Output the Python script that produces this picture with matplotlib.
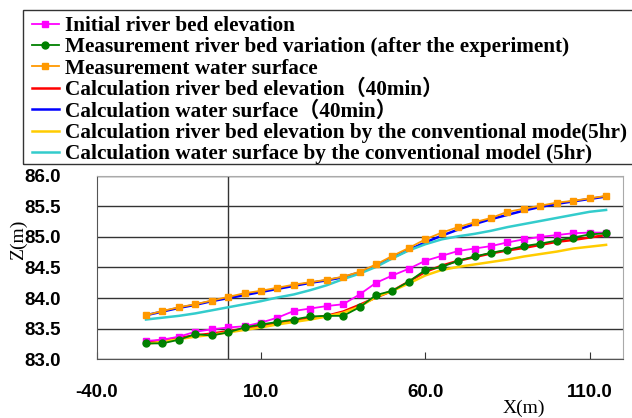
import matplotlib
matplotlib.use("Agg")
import matplotlib.pyplot as plt
from matplotlib.patches import Rectangle

# distance along the channel (m)
x_m = [-25, -20, -15, -10, -5, 0, 5, 10, 15, 20, 25, 30, 35, 40, 45,
       50, 55, 60, 65, 70, 75, 80, 85, 90, 95, 100, 105, 110, 115]

# elevations (m)
bed_initial = [83.30, 83.32, 83.37, 83.45, 83.49, 83.52, 83.54, 83.60, 83.68, 83.79,
               83.83, 83.87, 83.90, 84.06, 84.25, 84.37, 84.48, 84.61, 84.69, 84.77,
               84.81, 84.85, 84.91, 84.96, 85.00, 85.03, 85.06, 85.07, 85.07]
bed_measured = [83.26, 83.26, 83.32, 83.41, 83.39, 83.44, 83.52, 83.57, 83.61, 83.65,
                83.70, 83.71, 83.71, 83.85, 84.05, 84.12, 84.27, 84.46, 84.51, 84.61,
                84.68, 84.74, 84.79, 84.85, 84.89, 84.94, 84.99, 85.04, 85.06]
ws_measured = [83.72, 83.79, 83.85, 83.90, 83.96, 84.02, 84.08, 84.12, 84.17, 84.22,
               84.26, 84.30, 84.35, 84.43, 84.55, 84.69, 84.82, 84.96, 85.07, 85.16,
               85.24, 85.31, 85.41, 85.46, 85.51, 85.56, 85.59, 85.63, 85.67]
bed_calc = [83.28, 83.31, 83.35, 83.39, 83.42, 83.46, 83.50, 83.54, 83.59, 83.63,
            83.67, 83.71, 83.78, 83.89, 84.01, 84.12, 84.27, 84.43, 84.53, 84.61,
            84.67, 84.73, 84.78, 84.82, 84.87, 84.92, 84.95, 84.99, 85.03]
ws_calc = [83.72, 83.78, 83.84, 83.89, 83.95, 84.00, 84.05, 84.10, 84.15, 84.20,
           84.25, 84.29, 84.34, 84.42, 84.53, 84.66, 84.79, 84.91, 85.02, 85.12,
           85.21, 85.29, 85.36, 85.43, 85.49, 85.54, 85.58, 85.62, 85.66]
bed_conv = [83.25, 83.29, 83.33, 83.37, 83.40, 83.44, 83.48, 83.52, 83.57, 83.61,
            83.65, 83.70, 83.76, 83.86, 84.02, 84.12, 84.24, 84.37, 84.46, 84.51,
            84.55, 84.59, 84.63, 84.68, 84.72, 84.76, 84.81, 84.84, 84.87]
ws_conv = [83.65, 83.68, 83.71, 83.75, 83.80, 83.85, 83.90, 83.95, 84.01, 84.06,
           84.13, 84.21, 84.31, 84.40, 84.51, 84.65, 84.78, 84.88, 84.96, 85.01,
           85.05, 85.10, 85.16, 85.21, 85.26, 85.31, 85.36, 85.41, 85.44]

labels = [
    "Initial river bed elevation",
    "Measurement river bed variation (after the experiment)",
    "Measurement water surface",
    "Calculation river bed elevation\uff0840min\uff09",
    "Calculation water surface\uff0840min\uff09",
    "Calculation river bed elevation by the conventional mode(5hr)",
    "Calculation water surface by the conventional model (5hr)",
]

fig = plt.figure(figsize=(6.32, 4.18), dpi=100)
ax = fig.add_axes([0.153, 0.1404, 0.832, 0.4393])

h = []
h += ax.plot(x_m, bed_initial, color="#FF00FF", lw=1.3, marker="s", ms=5, zorder=5)
h += ax.plot(x_m, bed_measured, color="#008000", lw=1.3, marker="o", ms=5, zorder=5)
h += ax.plot(x_m, ws_measured, color="#FF9900", lw=1.3, marker="s", ms=5, zorder=5)
h += ax.plot(x_m, bed_calc, color="#FF0000", lw=1.8, zorder=3)
h += ax.plot(x_m, ws_calc, color="#0000FF", lw=1.8, zorder=3)
h += ax.plot(x_m, bed_conv, color="#FFCC00", lw=1.8, zorder=3)
h += ax.plot(x_m, ws_conv, color="#33CCCC", lw=1.8, zorder=3)

ax.set_xlim(-40, 120)
ax.set_ylim(83.0, 86.0)
ax.set_xticks([-40, 10, 60, 110])
ax.set_xticklabels(["-40.0", "10.0", "60.0", "110.0"])
ax.set_yticks([83.0, 83.5, 84.0, 84.5, 85.0, 85.5, 86.0])
ax.set_yticklabels(["%.1f" % v for v in ax.get_yticks()])
ax.yaxis.grid(True, color="#333333", lw=1)
ax.axvline(0, color="#333333", lw=1)
ax.tick_params(axis="x", direction="in", length=5, color="#333333", pad=18)
ax.tick_params(axis="y", length=0, pad=26)
for t in ax.get_xticklabels() + ax.get_yticklabels():
    t.set_fontfamily("Liberation Sans")
    t.set_fontweight("bold")
    t.set_fontsize(13.5)
ax.spines["left"].set_color("#555555")
ax.spines["bottom"].set_color("#555555")
ax.spines["top"].set_color("#aaaaaa")
ax.spines["right"].set_color("#aaaaaa")

fig.text(18 / 632, 1 - 240 / 418, "Z(m)", rotation=90, ha="center", va="center",
         family="Liberation Serif", fontsize=14)
fig.text(524 / 632, 1 - 408 / 418, "X(m)", ha="center", va="center",
         family="Liberation Serif", fontsize=14)

# legend box runs off the right edge
fig.patches.append(Rectangle((23 / 632, 1 - 164 / 418), 1.0, 154 / 418,
                             transform=fig.transFigure, fill=False,
                             edgecolor="#333333", lw=1))
fig.legend(h, labels, loc="upper left", bbox_to_anchor=(32 / 632, 1 - 16 / 418),
           frameon=False, borderpad=0, borderaxespad=0, handlelength=1.25,
           handletextpad=0.28, labelspacing=0.06,
           prop={"family": ["Liberation Serif", "Noto Sans CJK JP"], "weight": "bold", "size": 15.3})

fig.savefig("out.png", dpi=100)
